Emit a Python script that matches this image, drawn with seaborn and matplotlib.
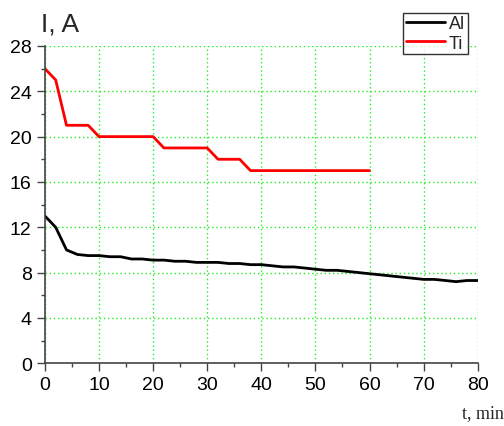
#!/usr/bin/env python3
"""
Current vs time for Al and Ti, drawn with seaborn.
"""

import pandas as pd
import seaborn as sns
import matplotlib.pyplot as plt
from matplotlib.ticker import MultipleLocator

# time points, min
t_al = [0, 2, 4, 6, 8, 10, 12, 14, 16, 18, 20, 22, 24, 26, 28, 30, 32, 34, 36, 38,
        40, 42, 44, 46, 48, 50, 52, 54, 56, 58, 60, 62, 64, 66, 68, 70, 72, 74, 76, 78, 80]
i_al = [13.0, 12.0, 10.0, 9.6, 9.5, 9.5, 9.4, 9.4, 9.2, 9.2, 9.1, 9.1, 9.0, 9.0, 8.9, 8.9,
        8.9, 8.8, 8.8, 8.7, 8.7, 8.6, 8.5, 8.5, 8.4, 8.3, 8.2, 8.2, 8.1, 8.0, 7.9, 7.8,
        7.7, 7.6, 7.5, 7.4, 7.4, 7.3, 7.2, 7.3, 7.3]

t_ti = [0, 2, 4, 6, 8, 10, 12, 14, 16, 18, 20, 22, 24, 26, 28, 30, 32, 34, 36, 38,
        40, 42, 44, 46, 48, 50, 52, 54, 56, 58, 60]
i_ti = [26, 25, 21, 21, 21, 20, 20, 20, 20, 20, 20, 19, 19, 19, 19, 19, 18, 18, 18, 17,
        17, 17, 17, 17, 17, 17, 17, 17, 17, 17, 17]

x_ticks = [0, 10, 20, 30, 40, 50, 60, 70, 80]
y_ticks = [0, 4, 8, 12, 16, 20, 24, 28]


def main():
    sns.set_style("ticks")
    plt.rcParams["font.family"] = ["Liberation Sans", "DejaVu Sans"]

    df = pd.concat([
        pd.DataFrame({"t": t_al, "I": i_al, "metal": "Al"}),
        pd.DataFrame({"t": t_ti, "I": i_ti, "metal": "Ti"}),
    ])

    fig = plt.figure(figsize=(5.04, 4.27), dpi=100)
    ax = fig.add_axes([0.089, 0.147, 0.859, 0.743])

    sns.lineplot(data=df, x="t", y="I", hue="metal",
                 palette={"Al": "black", "Ti": "#ff0000"},
                 linewidth=2, ax=ax, legend=False)

    ax.set_xlim(0, 80)
    ax.set_ylim(0, 28)
    ax.set_xticks(x_ticks)
    ax.set_yticks(y_ticks)
    ax.xaxis.set_minor_locator(MultipleLocator(5))
    ax.yaxis.set_minor_locator(MultipleLocator(2))
    ax.grid(True, which="major", color="#22ee22", linestyle=(0, (1, 2)), linewidth=1)
    ax.set_axisbelow(True)

    for side in ["top", "right"]:
        ax.spines[side].set_visible(False)
    for side in ["left", "bottom"]:
        ax.spines[side].set_color("#444444")
        ax.spines[side].set_linewidth(1.2)
    ax.tick_params(which="major", length=6, width=1, labelsize=14, colors="#444444",
                   labelcolor="black")
    ax.tick_params(which="minor", length=3, width=1, colors="#444444")

    ax.set_xlabel("")
    ax.set_ylabel("")
    fig.text(0.082, 0.915, "I, A", fontsize=19, ha="left", va="bottom")
    fig.text(1.0, 0.012, "t, min", fontsize=13, ha="right", va="bottom",
             family=["Liberation Serif", "DejaVu Serif"])

    handles = [plt.Line2D([], [], color="black", lw=2),
               plt.Line2D([], [], color="#ff0000", lw=2)]
    leg = fig.legend(handles, ["Al", "Ti"], loc="upper right",
                     bbox_to_anchor=(0.928, 0.968), fontsize=13,
                     frameon=True, fancybox=False, handlelength=2.2,
                     borderpad=0.15, labelspacing=0.12, handletextpad=0.2,
                     borderaxespad=0)
    leg.get_frame().set_edgecolor("black")
    leg.get_frame().set_linewidth(1)

    fig.savefig("out.png", dpi=100)


if __name__ == "__main__":
    main()
